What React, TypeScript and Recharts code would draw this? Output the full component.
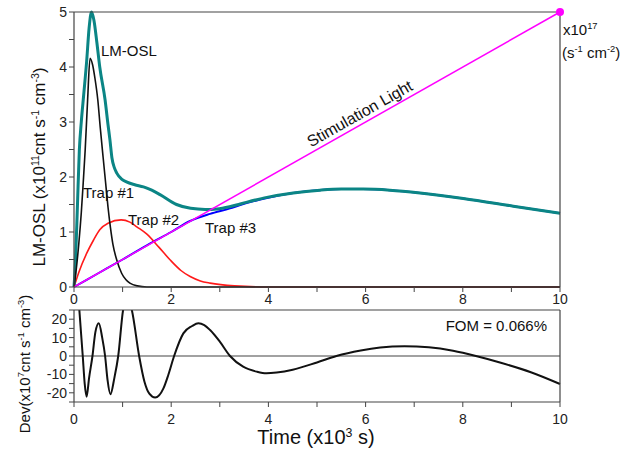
import React from 'react';
import { LineChart, Line, XAxis, YAxis, ReferenceLine } from 'recharts';

// time axis in units of 10^3 s
const timeTicks = [0, 1, 2, 3, 4, 5, 6, 7, 8, 9, 10];
const oslTicks = [0, 0.5, 1, 1.5, 2, 2.5, 3, 3.5, 4, 4.5, 5];
const devTicks = [-25, -20, -15, -10, -5, 0, 5, 10, 15, 20, 25];

// total LM-OSL (x10^11)
const totalTime = [0, 0.03, 0.07, 0.11, 0.15, 0.2, 0.26, 0.31, 0.36, 0.41, 0.47, 0.53, 0.64, 0.7, 0.74, 0.78, 0.83, 0.88, 0.98, 1.08, 1.25, 1.43, 1.6, 1.77, 2.11, 2.4, 2.7, 2.94, 3.2, 3.42, 3.97, 4.51, 5.06, 5.5, 5.95, 6.5, 7.12, 8.01, 9.04, 10];
const totalOsl = [0, 0.45, 1.46, 2.49, 3.0, 3.5, 4.1, 4.7, 5.0, 4.85, 4.45, 4.0, 3.4, 2.95, 2.67, 2.35, 2.17, 2.07, 1.96, 1.91, 1.86, 1.82, 1.76, 1.68, 1.5, 1.43, 1.41, 1.42, 1.46, 1.51, 1.63, 1.71, 1.76, 1.78, 1.78, 1.76, 1.71, 1.61, 1.47, 1.34];

const trap1Time = [0, 0.05, 0.1, 0.15, 0.19, 0.23, 0.28, 0.33, 0.38, 0.43, 0.49, 0.54, 0.6, 0.65, 0.7, 0.75, 0.8, 0.88, 0.98, 1.07, 1.15, 1.3, 1.5, 10];
const trap1Osl = [0, 0.35, 0.8, 1.35, 1.9, 2.49, 3.4, 4.16, 4.05, 3.8, 3.4, 2.9, 2.35, 1.9, 1.45, 1.08, 0.78, 0.49, 0.25, 0.13, 0.07, 0.02, 0, 0];

const trap2Time = [0, 0.1, 0.26, 0.4, 0.53, 0.7, 0.97, 1.15, 1.3, 1.5, 1.75, 1.98, 2.2, 2.39, 2.6, 2.8, 3.3, 4, 10];
const trap2Osl = [0, 0.27, 0.61, 0.85, 1.04, 1.16, 1.22, 1.18, 1.09, 0.96, 0.72, 0.49, 0.3, 0.19, 0.11, 0.07, 0.02, 0, 0];

const trap3Time = [0, 0.5, 1, 1.56, 2, 2.39, 2.8, 3.21, 3.42, 3.97, 4.51, 5.06, 5.5, 5.95, 6.5, 7.12, 8.01, 9.04, 10];
const trap3Osl = [0, 0.25, 0.5, 0.79, 1.0, 1.2, 1.33, 1.43, 1.49, 1.62, 1.71, 1.76, 1.78, 1.78, 1.76, 1.71, 1.61, 1.47, 1.34];

// stimulation light intensity (x10^17 s^-1 cm^-2)
const stimTime = [0, 10];
const stimLight = [0, 5];

// deviation (x10^7)
const devTime = [0, 0.06, 0.11, 0.18, 0.22, 0.26, 0.31, 0.38, 0.44, 0.51, 0.58, 0.64, 0.69, 0.75, 0.83, 0.91, 1.01, 1.1, 1.19, 1.34, 1.45, 1.55, 1.67, 1.84, 1.94, 2.06, 2.25, 2.43, 2.56, 2.68, 2.8, 3.0, 3.21, 3.48, 3.76, 3.96, 4.17, 4.5, 5.0, 5.4, 5.9, 6.3, 6.8, 7.3, 7.8, 8.27, 8.8, 9.4, 10];
const devValue = [70, 45, 25, 0, -15, -22.1, -12, 0, 13, 17.8, 10, 0, -13, -20.8, -12, 0, 25, 32, 25, 0, -14, -20.5, -22.6, -17.6, -10.3, 0, 12.3, 16.3, 17.8, 16.8, 14.1, 7.8, 0, -5.8, -8.5, -9.4, -9, -7.5, -3.5, 0, 3, 4.6, 5.3, 4.7, 2.8, 0, -3.8, -8.8, -15.2];

const pts = (xs: number[], ys: number[]) => xs.map((x, i) => ({ x, y: ys[i] }));

const font = "'Liberation Sans', Arial, Helvetica, sans-serif";
const axisColor = '#444';
const tickStyle = { fill: '#222', fontSize: 14, fontFamily: font };
const axisLine = { stroke: axisColor, strokeWidth: 1.2 };
const tickLine = { stroke: axisColor, strokeWidth: 1 };

const evenOnly = (v: number) => (v % 2 === 0 ? String(v) : '');
const intOnly = (v: number) => (Number.isInteger(v) ? String(v) : '');
const tensOnly = (v: number) => (v % 10 === 0 ? String(v) : '');
const blank = () => '';

const Sup = ({ children }: { children: React.ReactNode }) => (
  <span style={{ fontSize: '0.62em', position: 'relative', top: '-0.6em' }}>{children}</span>
);

const label = (left: number, top: number, size: number, extra: React.CSSProperties = {}) => ({
  position: 'absolute' as const,
  left,
  top,
  fontSize: size,
  lineHeight: 1,
  whiteSpace: 'nowrap' as const,
  color: '#111',
  ...extra,
});

export default function App() {
  return (
    <div style={{ position: 'absolute', left: 0, top: 0, width: 635, height: 451, background: '#fff', fontFamily: font }}>
      <div style={{ position: 'absolute', left: 0, top: 0 }}>
        <LineChart width={635} height={317} margin={{ top: 12, right: 75, bottom: 0, left: 0 }}>
          <XAxis xAxisId="b" dataKey="x" type="number" domain={[0, 10]} ticks={timeTicks} interval={0}
            tickFormatter={evenOnly} axisLine={axisLine} tickLine={tickLine} tick={tickStyle} tickSize={5} height={30} />
          <XAxis xAxisId="t" orientation="top" mirror dataKey="x" type="number" domain={[0, 10]} ticks={timeTicks}
            interval={0} tickFormatter={blank} axisLine={axisLine} tickLine={tickLine} tickSize={5} height={20} />
          <YAxis yAxisId="l" type="number" domain={[0, 5]} ticks={oslTicks} interval={0} tickFormatter={intOnly}
            axisLine={axisLine} tickLine={tickLine} tick={tickStyle} tickSize={5} width={74} />
          <YAxis yAxisId="r" orientation="right" mirror type="number" domain={[0, 5]} ticks={oslTicks} interval={0}
            tickFormatter={blank} axisLine={axisLine} tickLine={tickLine} tickSize={5} width={20} />
          <Line xAxisId="b" yAxisId="l" data={pts(trap3Time, trap3Osl)} dataKey="y" type="monotone"
            stroke="#0000ff" strokeWidth={2} dot={false} isAnimationActive={false} />
          <Line xAxisId="b" yAxisId="l" data={pts(trap2Time, trap2Osl)} dataKey="y" type="monotone"
            stroke="#ff1a1a" strokeWidth={1.6} dot={false} isAnimationActive={false} />
          <Line xAxisId="b" yAxisId="l" data={pts(totalTime, totalOsl)} dataKey="y" type="monotone"
            stroke="#0b8585" strokeWidth={3} dot={false} isAnimationActive={false} />
          <Line xAxisId="b" yAxisId="l" data={pts(trap1Time, trap1Osl)} dataKey="y" type="monotone"
            stroke="#111" strokeWidth={1.6} dot={false} isAnimationActive={false} />
          <Line xAxisId="b" yAxisId="l" data={pts(stimTime, stimLight)} dataKey="y" type="linear"
            stroke="#ff00ff" strokeWidth={1.5} isAnimationActive={false}
            dot={(p: any) => p.index === stimTime.length - 1
              ? <circle key="end" cx={p.cx} cy={p.cy} r={4} fill="#ff00ff" />
              : <g key={'d' + p.index} />} />
        </LineChart>
      </div>

      <div style={{ position: 'absolute', left: 0, top: 300 }}>
        <LineChart width={635} height={151} margin={{ top: 10, right: 75, bottom: 0, left: 0 }}>
          <XAxis xAxisId="b" dataKey="x" type="number" domain={[0, 10]} ticks={timeTicks} interval={0}
            tickFormatter={evenOnly} axisLine={axisLine} tickLine={tickLine} tick={tickStyle} tickSize={5} tickMargin={7} height={49} />
          <XAxis xAxisId="t" orientation="top" mirror dataKey="x" type="number" domain={[0, 10]} ticks={timeTicks}
            interval={0} tickFormatter={blank} axisLine={axisLine} tickLine={tickLine} tickSize={5} height={20} />
          <YAxis yAxisId="l" type="number" domain={[-25, 25]} allowDataOverflow ticks={devTicks} interval={0}
            tickFormatter={tensOnly} axisLine={axisLine} tickLine={tickLine} tick={tickStyle} tickSize={5} width={74} />
          <YAxis yAxisId="r" orientation="right" mirror type="number" domain={[-25, 25]} ticks={devTicks} interval={0}
            tickFormatter={blank} axisLine={axisLine} tickLine={tickLine} tickSize={5} width={20} />
          <ReferenceLine xAxisId="b" yAxisId="l" y={0} stroke={axisColor} strokeWidth={1.2} />
          <Line xAxisId="b" yAxisId="l" data={pts(devTime, devValue)} dataKey="y" type="monotone"
            stroke="#111" strokeWidth={2} dot={false} isAnimationActive={false} />
        </LineChart>
      </div>

      {/* axis titles */}
      <div style={label(39, 167, 17, { transform: 'translate(-50%, -50%) rotate(-90deg)' })}>
        LM-OSL (x10<Sup>11</Sup>cnt s<Sup>-1</Sup> cm<Sup>-3</Sup>)
      </div>
      <div style={label(25, 364, 15, { transform: 'translate(-50%, -50%) rotate(-90deg)' })}>
        Dev(x10<Sup>7</Sup>cnt s<Sup>-1</Sup> cm<Sup>-3</Sup>)
      </div>
      <div style={label(316, 437, 20, { transform: 'translate(-50%, -50%)' })}>
        Time (x10<Sup>3</Sup> s)
      </div>
      <div style={label(563, 22, 15)}>x10<Sup>17</Sup></div>
      <div style={label(562, 45, 15)}>(s<Sup>-1</Sup> cm<Sup>-2</Sup>)</div>

      {/* curve annotations */}
      <div style={label(101, 43, 15)}>LM-OSL</div>
      <div style={label(83, 185, 15)}>Trap #1</div>
      <div style={label(128, 212, 15)}>Trap #2</div>
      <div style={label(205, 220, 15)}>Trap #3</div>
      <div style={label(360, 114, 16, { transform: 'translate(-50%, -50%) rotate(-29.5deg)' })}>Stimulation Light</div>
      <div style={label(547, 318, 15, { transform: 'translateX(-100%)' })}>FOM = 0.066%</div>
    </div>
  );
}
